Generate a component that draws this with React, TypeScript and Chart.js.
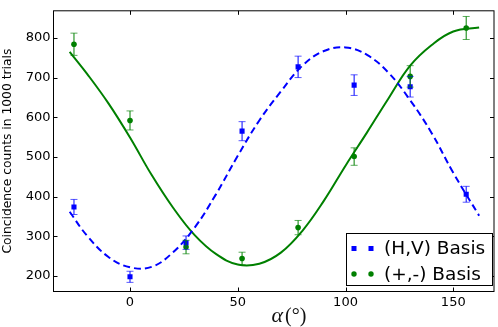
import React, { useEffect, useRef } from "react";
import { Chart, registerables } from "chart.js";

Chart.register(...registerables);

// ---- data ----
const ANGLES = [-26, 0, 26, 52, 78, 104, 130, 156];
const HV_COUNTS = [374, 198, 284, 565, 727, 681, 677, 406];
const HV_ERRORS = [19, 14, 17, 24, 27, 26, 26, 20];
const PM_COUNTS = [784, 592, 273, 244, 322, 501, 703, 825];
const PM_ERRORS = [28, 24, 17, 16, 18, 22, 27, 29];

const FIT_ANGLES = [-28, -20, -10, 0, 10, 20, 30, 40, 50, 60, 70, 80, 90, 100, 110, 120, 130, 140, 150, 162];
const HV_FIT = [362, 302, 248, 222, 223, 260, 322, 407, 503, 592, 665, 730, 767, 776, 757, 712, 643, 560, 460, 352];
const PM_FIT = [765, 710, 635, 549, 455, 372, 303, 255, 229, 231, 259, 314, 390, 478, 562, 648, 730, 782, 816, 826];

const X_TICKS = [0, 50, 100, 150];
const Y_TICKS = [200, 300, 400, 500, 600, 700, 800];
const X_MIN = -35.5;
const X_MAX = 168.9;
const Y_MIN = 161;
const Y_MAX = 868.3;

const LEGEND_LABELS = ["(H,V) Basis", "(+,-) Basis"];
const Y_TITLE = "Coincidence counts in 1000 trials";
const X_TITLE_SYMBOL = "α";
const X_TITLE_UNIT = "(°)";

const BLUE = "#0000ff";
const GREEN = "#008000";

const errorBarPlugin = {
  id: "errorBars",
  afterDatasetsDraw(chart: any) {
    const { ctx } = chart;
    const xs = chart.scales.x;
    const ys = chart.scales.y;
    chart.data.datasets.forEach((ds: any) => {
      if (!ds.errors) return;
      ctx.save();
      ctx.strokeStyle = ds.borderColor;
      ctx.lineWidth = 1;
      ds.data.forEach((p: any, j: number) => {
        const px = xs.getPixelForValue(p.x);
        const top = ys.getPixelForValue(p.y + ds.errors[j]);
        const bot = ys.getPixelForValue(p.y - ds.errors[j]);
        ctx.globalAlpha = 1;
        ctx.beginPath();
        ctx.moveTo(px, top);
        ctx.lineTo(px, bot);
        ctx.stroke();
        ctx.globalAlpha = 0.65;
        ctx.beginPath();
        ctx.moveTo(px - 3.5, top);
        ctx.lineTo(px + 3.5, top);
        ctx.moveTo(px - 3.5, bot);
        ctx.lineTo(px + 3.5, bot);
        ctx.stroke();
      });
      ctx.restore();
    });
  },
};

const framePlugin = {
  id: "frameTicks",
  afterDraw(chart: any) {
    const { ctx, chartArea } = chart;
    const xs = chart.scales.x;
    const ys = chart.scales.y;
    const { left, right, top, bottom } = chartArea;
    ctx.save();
    ctx.strokeStyle = "#000";
    ctx.lineWidth = 1;
    ctx.beginPath();
    X_TICKS.forEach((v) => {
      const px = Math.round(xs.getPixelForValue(v)) + 0.5;
      ctx.moveTo(px, bottom);
      ctx.lineTo(px, bottom - 4);
      ctx.moveTo(px, top);
      ctx.lineTo(px, top + 4);
    });
    Y_TICKS.forEach((v) => {
      const py = Math.round(ys.getPixelForValue(v)) + 0.5;
      ctx.moveTo(left, py);
      ctx.lineTo(left + 4, py);
      ctx.moveTo(right, py);
      ctx.lineTo(right - 4, py);
    });
    ctx.stroke();
    ctx.strokeRect(left, top, right - left, bottom - top);

    // x-axis title (math style)
    ctx.fillStyle = "#111";
    ctx.textBaseline = "alphabetic";
    ctx.textAlign = "left";
    ctx.font = "italic 22px 'Liberation Serif'";
    const baseY = 321.5;
    const startX = 271.5;
    ctx.fillText(X_TITLE_SYMBOL, startX, baseY);
    const aw = ctx.measureText(X_TITLE_SYMBOL).width;
    ctx.font = "20px 'Liberation Serif'";
    ctx.fillText(X_TITLE_UNIT, startX + aw + 2, baseY);
    ctx.restore();

    // legend
    ctx.save();
    const lx = 346.5, ly = 233.5, lw = 146, lh = 52;
    ctx.fillStyle = "#fff";
    ctx.fillRect(lx, ly, lw, lh);
    ctx.strokeStyle = "#000";
    ctx.lineWidth = 1;
    ctx.strokeRect(lx, ly, lw, lh);
    const rows = [248.5, 274];
    chart.data.datasets.slice(0, 2).forEach((ds: any, i: number) => {
      const cy = rows[i];
      ctx.fillStyle = ds.backgroundColor;
      [354, 371].forEach((mx) => {
        if (ds.pointStyle === "rect") {
          ctx.fillRect(mx - 2.5, cy - 2.5, 5, 5);
        } else {
          ctx.beginPath();
          ctx.arc(mx, cy, 2.7, 0, Math.PI * 2);
          ctx.fill();
        }
      });
      ctx.fillStyle = "#000";
      ctx.font = "18.5px 'DejaVu Sans'";
      ctx.textBaseline = "middle";
      ctx.textAlign = "left";
      ctx.fillText(LEGEND_LABELS[i], 384, cy + 1);
    });
    ctx.restore();
  },
};

export default function App() {
  const ref = useRef<HTMLCanvasElement | null>(null);
  useEffect(() => {
    if (!ref.current) return;
    const chart = new Chart(ref.current, {
      type: "scatter",
      data: {
        datasets: [
          {
            label: LEGEND_LABELS[0],
            data: ANGLES.map((a, i) => ({ x: a, y: HV_COUNTS[i] })),
            errors: HV_ERRORS,
            pointStyle: "rect",
            pointRadius: 3.6,
            borderWidth: 0,
            borderColor: BLUE,
            backgroundColor: BLUE,
            showLine: false,
          } as any,
          {
            label: LEGEND_LABELS[1],
            data: ANGLES.map((a, i) => ({ x: a, y: PM_COUNTS[i] })),
            errors: PM_ERRORS,
            pointStyle: "circle",
            pointRadius: 2.8,
            borderWidth: 0,
            borderColor: GREEN,
            backgroundColor: GREEN,
            showLine: false,
          } as any,
          {
            label: "HV fit",
            data: FIT_ANGLES.map((a, i) => ({ x: a, y: HV_FIT[i] })),
            showLine: true,
            pointRadius: 0,
            borderColor: BLUE,
            backgroundColor: BLUE,
            borderWidth: 2,
            borderDash: [7, 4],
            tension: 0.4,
          } as any,
          {
            label: "PM fit",
            data: FIT_ANGLES.map((a, i) => ({ x: a, y: PM_FIT[i] })),
            showLine: true,
            pointRadius: 0,
            borderColor: GREEN,
            backgroundColor: GREEN,
            borderWidth: 2,
            tension: 0.4,
          } as any,
        ],
      },
      options: {
        animation: false,
        responsive: false,
        devicePixelRatio: 1,
        layout: { padding: { top: 1.5, right: 1.5, left: 0, bottom: 0 } },
        plugins: { legend: { display: false }, tooltip: { enabled: false } },
        scales: {
          x: {
            type: "linear",
            min: X_MIN,
            max: X_MAX,
            grid: { display: false, drawTicks: false },
            border: { display: false },
            afterBuildTicks: (s: any) => {
              s.ticks = X_TICKS.map((v) => ({ value: v }));
            },
            afterFit: (s: any) => {
              s.height = 35.5;
            },
            ticks: {
              color: "#000",
              padding: 3,
              maxRotation: 0,
              font: { family: "'DejaVu Sans'", size: 13 },
            },
          },
          y: {
            type: "linear",
            min: Y_MIN,
            max: Y_MAX,
            grid: { display: false, drawTicks: false },
            border: { display: false },
            afterBuildTicks: (s: any) => {
              s.ticks = Y_TICKS.map((v) => ({ value: v }));
            },
            afterFit: (s: any) => {
              s.width = 53.5;
            },
            title: {
              display: true,
              text: Y_TITLE,
              color: "#000",
              padding: { top: 0, bottom: 0 },
              font: { family: "'DejaVu Sans'", size: 12.3 },
            },
            ticks: {
              color: "#000",
              padding: 3,
              font: { family: "'DejaVu Sans'", size: 13 },
            },
          },
        },
      } as any,
      plugins: [errorBarPlugin, framePlugin],
    });
    return () => chart.destroy();
  }, []);
  return (
    <div style={{ position: "absolute", left: 0, top: 0, width: 498, height: 327, background: "#fff" }}>
      <canvas ref={ref} width={498} height={327} style={{ display: "block", width: 498, height: 327 }} />
    </div>
  );
}
